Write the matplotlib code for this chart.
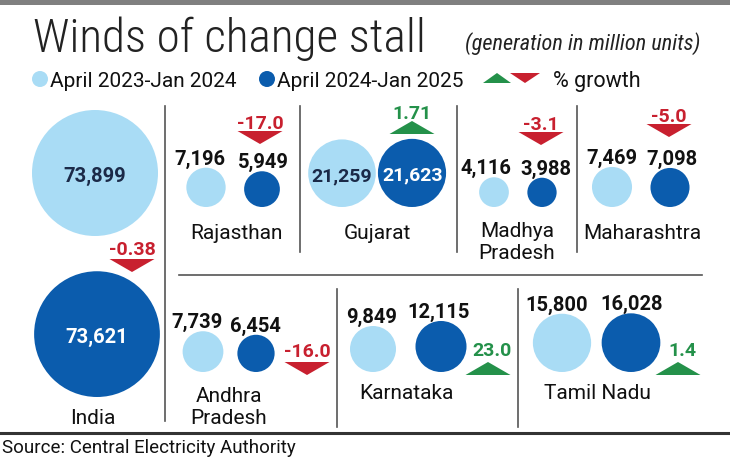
import matplotlib
matplotlib.use("Agg")
import matplotlib.pyplot as plt
import matplotlib.font_manager as fm
from matplotlib.patches import Circle, Polygon, Rectangle
import numpy as np

# ---------------- data ----------------
states = ["India", "Rajasthan", "Gujarat", "Madhya\nPradesh", "Maharashtra",
          "Andhra\nPradesh", "Karnataka", "Tamil Nadu"]
prev_vals = [73899, 7196, 21259, 4116, 7469, 7739, 9849, 15800]   # April 2023-Jan 2024
curr_vals = [73621, 5949, 21623, 3988, 7098, 6454, 12115, 16028]  # April 2024-Jan 2025
growth = [-0.38, -17.0, 1.71, -3.1, -5.0, -16.0, 23.0, 1.4]
growth_labels = ["-0.38", "-17.0", "1.71", "-3.1", "-5.0", "-16.0", "23.0", "1.4"]
legend_labels = ["April 2023-Jan 2024", "April 2024-Jan 2025", "% growth"]

# ---------------- fonts ----------------
ttf = fm.fontManager.ttflist
avail = {f.name for f in ttf}
def pick(*cands):
    for c in cands:
        if c in avail:
            return c
    return "DejaVu Sans"
def wnum(w):
    table = {"ultralight": 200, "light": 300, "normal": 400, "regular": 400, "book": 400,
             "medium": 500, "semibold": 600, "bold": 700, "heavy": 800, "black": 900}
    return w if isinstance(w, int) else table.get(str(w).lower(), 400)

COND = pick("Roboto Condensed", "Liberation Sans Narrow", "Open Sans Condensed", "Noto Sans", "DejaVu Sans")
BODY = pick("Roboto", "Noto Sans", "Open Sans", "DejaVu Sans")
has_cond_light = any(f.name == COND and wnum(f.weight) <= 300 for f in ttf)
TITLE = COND if has_cond_light else pick("Lato", "Open Sans", "Roboto", "DejaVu Sans")

LIGHT_BLUE = "#a9dcf5"
DARK_BLUE = "#0b5cad"
RED = "#c8202f"
GREEN = "#24914a"

# ---------------- layout (pixel coords, y down) ----------------
layout = [
    dict(lx=95, dx=97, lb=237, db=398, inside=True, llx=95, dlx=97, tx=132, tt=260, ty=248, nx=93, ny=417),
    dict(lx=206, dx=262, lb=208, db=208, inside=False, llx=200, dlx=263, tx=260, tt=132, ty=122, nx=236, ny=232),
    dict(lx=342, dx=412, lb=208, db=208, inside=True, llx=342, dlx=413, tx=412, tt=122, ty=112, nx=377, ny=232),
    dict(lx=494, dx=542, lb=208, db=208, inside=False, llx=486, dlx=546, tx=541, tt=133, ty=123, nx=517, ny=239),
    dict(lx=612, dx=670, lb=208, db=208, inside=False, llx=612, dlx=672, tx=669, tt=125, ty=115, nx=642, ny=232),
    dict(lx=203, dx=256, lb=373, db=373, inside=False, llx=197, dlx=255, tx=307, tt=363, ty=350, nx=229, ny=404),
    dict(lx=373, dx=441, lb=373, db=373, inside=False, llx=372, dlx=439, tx=488, tt=363, ty=349, nx=406, ny=392),
    dict(lx=562, dx=631, lb=373, db=373, inside=False, llx=557, dlx=632, tx=678, tt=363, ty=349, nx=597, ny=392),
]

K = 63.0 / np.sqrt(max(prev_vals))  # radius scale: area proportional to value

W, H = 730, 460
fig = plt.figure(figsize=(W / 100, H / 100), dpi=100)
ax = fig.add_axes([0, 0, 1, 1])
ax.set_xlim(0, W)
ax.set_ylim(H, 0)
ax.set_aspect("equal")
ax.axis("off")

def tri(x, top, up, color, w=45, h=13):
    if up:
        pts = [(x - w / 2, top + h), (x + w / 2, top + h), (x, top)]
    else:
        pts = [(x - w / 2, top), (x + w / 2, top), (x, top + h)]
    ax.add_patch(Polygon(pts, closed=True, color=color, lw=0))

# top bar
ax.add_patch(Rectangle((0, 0), W, 6, color="#808080", lw=0))

# title
ax.text(33, 52, "Winds of change stall", fontsize=34, fontfamily=TITLE, fontweight="light",
        color="#222222", va="baseline", ha="left")
ax.text(700, 50, "(generation in million units)", fontsize=16, fontfamily=COND, style="italic",
        color="#222222", va="baseline", ha="right")

# legend
ax.add_patch(Circle((40, 80), 8, color=LIGHT_BLUE, lw=0))
ax.text(50, 87, legend_labels[0], fontsize=15, fontfamily=BODY, va="baseline", ha="left", color="#111111")
ax.add_patch(Circle((267, 80), 8, color=DARK_BLUE, lw=0))
ax.text(277, 87, legend_labels[1], fontsize=15, fontfamily=BODY, va="baseline", ha="left", color="#111111")
tri(497, 74, True, GREEN, w=28, h=10)
tri(525, 74, False, RED, w=30, h=10)
ax.text(553, 87, legend_labels[2], fontsize=15.5, fontfamily=BODY, va="baseline", ha="left", color="#111111")

# divider lines
lc = "#555555"
for x, y0, y1 in [(165, 107, 422), (300, 107, 253), (457, 107, 253), (577, 107, 253),
                  (337, 290, 428), (518, 290, 428)]:
    ax.plot([x, x], [y0, y1], color=lc, lw=1.2)
ax.plot([179, 702], [276, 276], color=lc, lw=1.2)
ax.plot([0, 728], [434, 434], color="#333333", lw=2.2)

ax.text(2, 453, "Source: Central Electricity Authority", fontsize=13.5, fontfamily=BODY,
        color="#111111", va="baseline", ha="left")

# bubbles
for i, s in enumerate(states):
    L = layout[i]
    rl = K * np.sqrt(prev_vals[i])
    rd = K * np.sqrt(curr_vals[i])
    cyl = L["lb"] - rl
    cyd = L["db"] - rd
    ax.add_patch(Circle((L["lx"], cyl), rl, color=LIGHT_BLUE, lw=0))
    ax.add_patch(Circle((L["dx"], cyd), rd, color=DARK_BLUE, lw=0))
    lt = f"{prev_vals[i]:,}"
    dt = f"{curr_vals[i]:,}"
    if L["inside"]:
        fs = 14.5 if i == 0 else 14
        ax.text(L["llx"], cyl, lt, fontsize=fs, fontweight="bold", fontfamily=BODY,
                color="#1b2a48", ha="center", va="center_baseline")
        ax.text(L["dlx"], cyd, dt, fontsize=fs, fontweight="bold", fontfamily=BODY,
                color="white", ha="center", va="center_baseline")
    else:
        ax.text(L["llx"], L["lb"] - 2 * rl - 4, lt, fontsize=14.5, fontweight="bold",
                fontfamily=BODY, color="#111111", ha="center", va="baseline")
        ax.text(L["dlx"], L["db"] - 2 * rd - 4, dt, fontsize=14.5, fontweight="bold",
                fontfamily=BODY, color="#111111", ha="center", va="baseline")
    up = growth[i] > 0
    col = GREEN if up else RED
    tri(L["tx"], L["tt"], up, col)
    ax.text(L["tx"] + (4 if i >= 6 else 0), L["ty"], growth_labels[i], fontsize=14, fontweight="bold",
            fontfamily=BODY, color=col, ha="center", va="center_baseline")
    ax.text(L["nx"], L["ny"], s, fontsize=15, fontfamily=BODY, color="#111111",
            ha="center", va="center_baseline", linespacing=1.2)

fig.savefig("out.png", dpi=100)
